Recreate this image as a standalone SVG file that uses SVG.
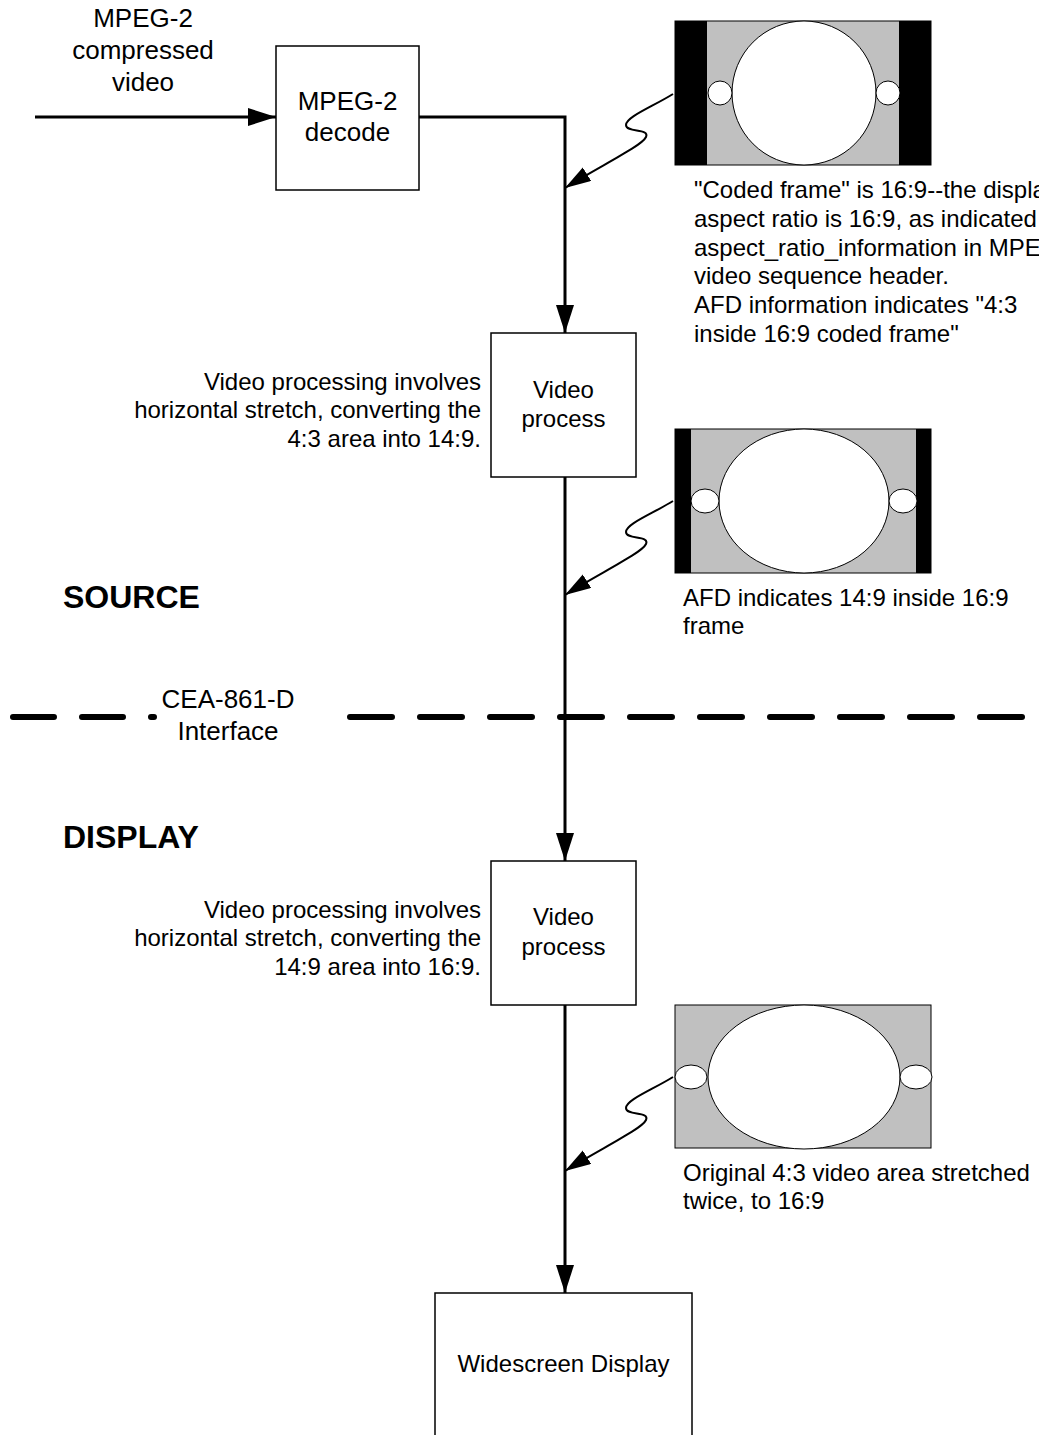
<svg xmlns="http://www.w3.org/2000/svg" width="1039" height="1435" viewBox="0 0 1039 1435">
<style>
  text { font-family: "Liberation Sans", Arial, sans-serif; fill: #000; }
  .t26 { font-size: 26px; }
  .t24 { font-size: 24px; }
  .bold { font-size: 32px; font-weight: bold; }
  .mid { text-anchor: middle; }
  .end { text-anchor: end; }
  .box { fill: #fff; stroke: #000; stroke-width: 1.5; }
  .flow { fill: none; stroke: #000; stroke-width: 3; }
  .sq { fill: none; stroke: #000; stroke-width: 2; }
  .frame { fill: #c0c0c0; stroke: #000; stroke-width: 1; }
  .bar { fill: #000; }
  .oval { fill: #fff; stroke: #000; stroke-width: 1; }
  .dash { fill: none; stroke: #000; stroke-width: 6; stroke-linecap: round; }
</style>
<defs>
  <marker id="ah" markerUnits="userSpaceOnUse" markerWidth="30" markerHeight="20" refX="28" refY="9" orient="auto">
    <path d="M0,0 L28,9 L0,18 Z" fill="#000"/>
  </marker>
  <marker id="ahs" markerUnits="userSpaceOnUse" markerWidth="28" markerHeight="18" refX="26" refY="8" orient="auto">
    <path d="M0,0 L26,8 L0,16 Z" fill="#000"/>
  </marker>
  <path id="squiggle" d="M673,94 C652,107 626,117 626,125 C626,133 650,128 646,137 C642,146 600,166 565,188"/>
</defs>

<rect width="1039" height="1435" fill="#fff"/>

<!-- interface line -->
<g id="interface">
  <line class="dash" x1="13" y1="717" x2="154" y2="717" stroke-dasharray="41 28"/>
  <line class="dash" x1="350" y1="717" x2="1045" y2="717" stroke-dasharray="42 28"/>
  <text class="t26 mid" x="228" y="708">CEA-861-D</text>
  <text class="t26 mid" x="228" y="740">Interface</text>
</g>

<!-- connectors -->
<g id="connectors">
  <line class="flow" x1="35" y1="117" x2="276" y2="117" marker-end="url(#ah)"/>
  <polyline class="flow" points="419,117 565,117 565,333" marker-end="url(#ah)"/>
  <line class="flow" x1="565" y1="477" x2="565" y2="861" marker-end="url(#ah)"/>
  <line class="flow" x1="565" y1="1005" x2="565" y2="1293" marker-end="url(#ah)"/>
  <use href="#squiggle" class="sq" marker-end="url(#ahs)"/>
  <use href="#squiggle" class="sq" transform="translate(0,407)" marker-end="url(#ahs)"/>
  <use href="#squiggle" class="sq" transform="translate(0,983)" marker-end="url(#ahs)"/>
</g>

<g id="input-label">
  <text class="t26 mid" x="143" y="27">MPEG-2</text>
  <text class="t26 mid" x="143" y="59">compressed</text>
  <text class="t26 mid" x="143" y="91">video</text>
</g>

<g id="decode">
  <rect class="box" x="276" y="46" width="143" height="144"/>
  <text class="t26 mid" x="347.5" y="110">MPEG-2</text>
  <text class="t26 mid" x="347.5" y="141">decode</text>
</g>

<g id="frame1">
  <rect class="frame" x="675" y="21" width="256" height="144"/>
  <rect class="bar" x="675" y="21" width="32" height="144"/>
  <rect class="bar" x="899" y="21" width="32" height="144"/>
  <ellipse class="oval" cx="804" cy="93" rx="72" ry="72"/>
  <ellipse class="oval" cx="720" cy="93" rx="12" ry="12"/>
  <ellipse class="oval" cx="888" cy="93" rx="12" ry="12"/>
</g>
<g id="note1">
  <text class="t24" x="694" y="198">"Coded frame" is 16:9--the display</text>
  <text class="t24" x="694" y="227">aspect ratio is 16:9, as indicated by</text>
  <text class="t24" x="694" y="256">aspect_ratio_information in MPEG-2</text>
  <text class="t24" x="694" y="284">video sequence header.</text>
  <text class="t24" x="694" y="313">AFD information indicates "4:3</text>
  <text class="t24" x="694" y="342">inside 16:9 coded frame"</text>
</g>

<g id="process1">
  <rect class="box" x="491" y="333" width="145" height="144"/>
  <text class="t24 mid" x="563.5" y="398">Video</text>
  <text class="t24 mid" x="563.5" y="427">process</text>
</g>
<g id="process1-note">
  <text class="t24 end" x="481" y="390">Video processing involves</text>
  <text class="t24 end" x="481" y="418">horizontal stretch, converting the</text>
  <text class="t24 end" x="481" y="447">4:3 area into 14:9.</text>
</g>

<g id="frame2">
  <rect class="frame" x="675" y="429" width="256" height="144"/>
  <rect class="bar" x="675" y="429" width="16" height="144"/>
  <rect class="bar" x="916" y="429" width="15" height="144"/>
  <ellipse class="oval" cx="804" cy="501" rx="85" ry="72"/>
  <ellipse class="oval" cx="705" cy="501" rx="14" ry="12"/>
  <ellipse class="oval" cx="903" cy="501" rx="14" ry="12"/>
</g>
<g id="note2">
  <text class="t24" x="683" y="606">AFD indicates 14:9 inside 16:9</text>
  <text class="t24" x="683" y="634">frame</text>
</g>

<g id="section-labels">
  <text class="bold" x="63" y="608">SOURCE</text>
  <text class="bold" x="63" y="848">DISPLAY</text>
</g>

<g id="process2">
  <rect class="box" x="491" y="861" width="145" height="144"/>
  <text class="t24 mid" x="563.5" y="925">Video</text>
  <text class="t24 mid" x="563.5" y="955">process</text>
</g>
<g id="process2-note">
  <text class="t24 end" x="481" y="918">Video processing involves</text>
  <text class="t24 end" x="481" y="946">horizontal stretch, converting the</text>
  <text class="t24 end" x="481" y="975">14:9 area into 16:9.</text>
</g>

<g id="frame3">
  <rect class="frame" x="675" y="1005" width="256" height="143"/>
  <ellipse class="oval" cx="804" cy="1077" rx="96" ry="72"/>
  <ellipse class="oval" cx="691" cy="1077" rx="16" ry="12"/>
  <ellipse class="oval" cx="916" cy="1077" rx="16" ry="12"/>
</g>
<g id="note3">
  <text class="t24" x="683" y="1181">Original 4:3 video area stretched</text>
  <text class="t24" x="683" y="1209">twice, to 16:9</text>
</g>

<g id="display">
  <rect class="box" x="435" y="1293" width="257" height="160"/>
  <text class="t24 mid" x="563.5" y="1372">Widescreen Display</text>
</g>
</svg>
